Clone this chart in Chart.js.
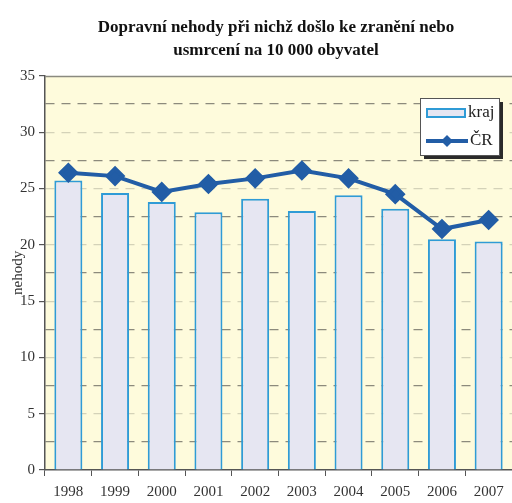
<!DOCTYPE html>
<html>
<head>
<meta charset="utf-8">
<script src="https://cdn.jsdelivr.net/npm/chart.js@4/dist/chart.umd.min.js"></script>
<style>
html,body{margin:0;padding:0;background:#fff;}
#wrap{width:512px;height:503px;position:relative;}
</style>
</head>
<body>
<div id="wrap"><canvas id="c" width="512" height="503"></canvas></div>
<script>
const years = ['1998','1999','2000','2001','2002','2003','2004','2005','2006','2007'];
const krajValues = [25.7, 24.6, 23.8, 22.9, 24.1, 23.0, 24.4, 23.2, 20.5, 20.3];
const crValues = [26.4, 26.1, 24.7, 25.4, 25.9, 26.6, 25.9, 24.5, 21.4, 22.2];
const seriesLabels = ['kraj', 'ČR'];
const titleLines = ['Dopravní nehody při nichž došlo ke zranění nebo', 'usmrcení na 10 000 obyvatel'];
const yTitle = 'nehody';

const SERIF = "'Liberation Serif', 'DejaVu Serif', serif";
const BAR_FILL = '#e6e6f2';
const BAR_EDGE = '#2f9bd6';
const LINE_COL = '#225da6';

const bgPlugin = {
  id: 'bg',
  afterLayout(chart) {
    if (chart.titleBlock) {
      chart.titleBlock.left += 40;
    }
  },
  beforeDraw(chart) {
    const {ctx, chartArea: a} = chart;
    ctx.save();
    ctx.fillStyle = '#fefbdc';
    ctx.fillRect(a.left, a.top, a.right - a.left, a.bottom - a.top);
    ctx.restore();
  },
  afterDatasetsDraw(chart) {
    const {ctx, chartArea: a} = chart;
    ctx.save();
    ctx.strokeStyle = '#8a8a80';
    ctx.lineWidth = 1.5;
    ctx.beginPath();
    ctx.moveTo(a.left, a.top + 0.5);
    ctx.lineTo(a.right, a.top + 0.5);
    ctx.stroke();
    ctx.restore();
  }
};

const legendPlugin = {
  id: 'boxLegend',
  afterDraw(chart) {
    const {ctx} = chart;
    const x = 420, y = 98, w = 79, h = 57;
    ctx.save();
    ctx.fillStyle = '#2a2a2a';
    ctx.fillRect(x + 4, y + 4, w, h);
    ctx.fillStyle = '#ffffff';
    ctx.fillRect(x, y, w, h);
    ctx.strokeStyle = '#555';
    ctx.lineWidth = 1;
    ctx.strokeRect(x + 0.5, y + 0.5, w, h);
    ctx.fillStyle = BAR_FILL;
    ctx.fillRect(x + 7, y + 11, 38, 8);
    ctx.strokeStyle = BAR_EDGE;
    ctx.lineWidth = 2;
    ctx.strokeRect(x + 7, y + 11, 38, 8);
    const ly = y + 43;
    ctx.strokeStyle = LINE_COL;
    ctx.lineWidth = 4;
    ctx.beginPath();
    ctx.moveTo(x + 6, ly);
    ctx.lineTo(x + 48, ly);
    ctx.stroke();
    ctx.fillStyle = LINE_COL;
    ctx.beginPath();
    ctx.moveTo(x + 27, ly - 6);
    ctx.lineTo(x + 33, ly);
    ctx.lineTo(x + 27, ly + 6);
    ctx.lineTo(x + 21, ly);
    ctx.closePath();
    ctx.fill();
    ctx.fillStyle = '#222';
    ctx.font = '17px ' + SERIF;
    ctx.textBaseline = 'middle';
    ctx.fillText(seriesLabels[0], x + 48, y + 15);
    ctx.fillText(seriesLabels[1], x + 50, ly);
    ctx.restore();
  }
};

new Chart(document.getElementById('c'), {
  data: {
    labels: years,
    datasets: [
      {
        type: 'line',
        label: seriesLabels[1],
        data: crValues,
        borderColor: LINE_COL,
        backgroundColor: LINE_COL,
        borderWidth: 4,
        pointStyle: 'rectRot',
        pointRadius: 7.5,
        pointBackgroundColor: LINE_COL,
        pointBorderColor: LINE_COL,
        tension: 0,
        order: 0
      },
      {
        type: 'bar',
        label: seriesLabels[0],
        data: krajValues,
        backgroundColor: BAR_FILL,
        borderColor: BAR_EDGE,
        borderWidth: 2,
        categoryPercentage: 0.6,
        barPercentage: 1.0,
        order: 1
      }
    ]
  },
  plugins: [bgPlugin, legendPlugin],
  options: {
    responsive: false,
    animation: false,
    devicePixelRatio: 1,
    layout: {autoPadding: false, padding: {left: 0, right: 0, top: 0, bottom: 0}},
    plugins: {
      legend: {display: false},
      tooltip: {enabled: false},
      title: {
        display: true,
        text: titleLines,
        color: '#111',
        font: {family: SERIF, size: 17, weight: 'bold', lineHeight: 1.35},
        padding: {top: 16, bottom: 14}
      }
    },
    scales: {
      x: {
        offset: true,
        grid: {display: true, drawOnChartArea: false, offset: true, tickLength: 6, color: '#555'},
        border: {display: true, color: '#555', width: 1.5},
        ticks: {color: '#333', font: {family: SERIF, size: 15}, padding: 7},
        afterFit(s) { s.height = 33; s.paddingLeft = 0; s.paddingRight = 0; }
      },
      y: {
        min: 0,
        max: 35,
        grid: {
          color(ctx) {
            const v = ctx.tick ? ctx.tick.value : 0;
            if (v === 0 || v === 35) return 'rgba(0,0,0,0)';
            return (Math.round(v * 10) % 50 === 0) ? '#d4d2b8' : '#8c8a7c';
          },
          tickColor(ctx) {
            const v = ctx.tick ? ctx.tick.value : 0;
            return (Math.round(v * 10) % 50 === 0) ? '#555' : 'rgba(0,0,0,0)';
          },
          tickLength: 6,
          lineWidth: 1.2
        },
        border: {display: true, color: '#555', width: 1.5, dash: [9, 7]},
        ticks: {
          stepSize: 2.5,
          color: '#333',
          font: {family: SERIF, size: 15},
          padding: 4,
          autoSkip: false,
          callback(v) { return (Math.round(v * 10) % 50 === 0) ? String(v) : ''; }
        },
        title: {display: true, text: yTitle, color: '#333', font: {family: SERIF, size: 15}, padding: {top: 9, bottom: 0}},
        afterFit(s) { s.width = 45; }
      }
    }
  }
});
</script>
</body>
</html>
